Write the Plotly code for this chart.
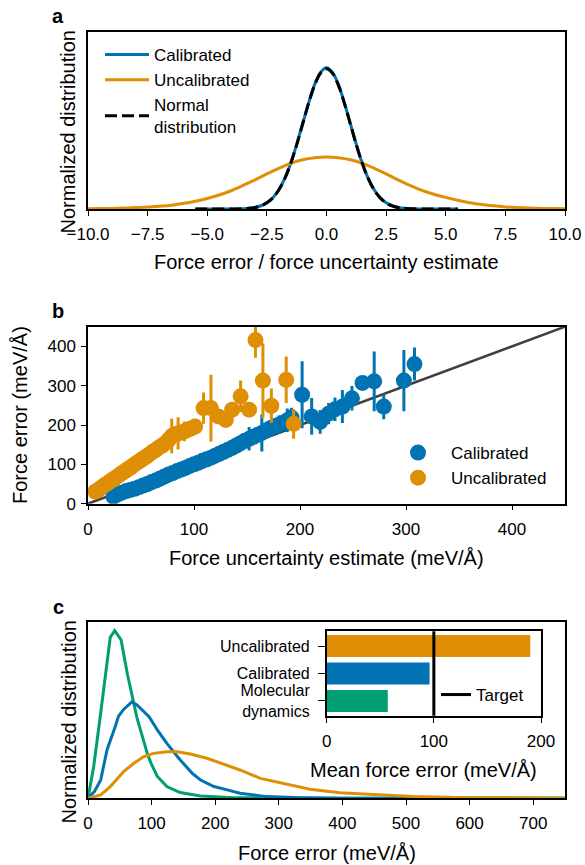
import plotly.graph_objects as go

# ---------------- Panel a data ----------------
a_x_unc = [-10, -9.5, -9, -8.5, -8, -7.5, -7, -6.5, -6, -5.5, -5, -4.5, -4, -3.5, -3, -2.5, -2, -1.5, -1, -0.5,
           0, 0.5, 1, 1.5, 2, 2.5, 3, 3.5, 4, 4.5, 5, 5.5, 6, 6.5, 7, 7.5, 8, 8.5, 9, 9.5, 10]
a_y_unc = [0.0007, 0.0011, 0.0017, 0.0025, 0.004, 0.0055, 0.008, 0.011, 0.016, 0.022, 0.030, 0.040, 0.052, 0.067,
           0.083, 0.100, 0.116, 0.130, 0.140, 0.146, 0.148, 0.146, 0.140, 0.130, 0.116, 0.100, 0.083, 0.067, 0.053,
           0.042, 0.033, 0.025, 0.018, 0.013, 0.009, 0.006, 0.004, 0.0025, 0.0017, 0.0011, 0.0007]
a_x_cal = [-5.5, -5, -4.5, -4, -3.5, -3.25, -3, -2.75, -2.5, -2.25, -2, -1.75, -1.5, -1.25, -1, -0.75, -0.5, -0.25,
           0, 0.25, 0.5, 0.75, 1, 1.25, 1.5, 1.75, 2, 2.25, 2.5, 2.75, 3, 3.25, 3.5, 4, 4.5, 5, 5.5]
a_y_cal = [0.0, 0.0, 0.0001, 0.0003, 0.001, 0.002, 0.0045, 0.0092, 0.018, 0.032, 0.055, 0.087, 0.130, 0.184, 0.243,
           0.302, 0.354, 0.389, 0.402, 0.389, 0.354, 0.302, 0.243, 0.184, 0.130, 0.087, 0.055, 0.032, 0.018, 0.0092,
           0.0045, 0.002, 0.001, 0.0003, 0.0001, 0.0, 0.0]
a_y_norm = [0.0, 0.0, 0.0, 0.0001, 0.0009, 0.002, 0.0044, 0.0091, 0.0175, 0.0317, 0.054, 0.0863, 0.130, 0.1826, 0.242,
            0.3011, 0.352, 0.3867, 0.399, 0.3867, 0.352, 0.3011, 0.242, 0.1826, 0.130, 0.0863, 0.054, 0.0317, 0.0175,
            0.0091, 0.0044, 0.002, 0.0009, 0.0001, 0.0, 0.0, 0.0]
a_ticks = [-10, -7.5, -5, -2.5, 0, 2.5, 5, 7.5, 10]

# ---------------- Panel b data ----------------
b_cal_x = [24, 28, 32, 36, 40, 44, 48, 52, 56, 60, 64, 68, 72, 76, 80, 84, 88, 92, 96, 100, 104, 108, 112, 116,
           120, 124, 128, 132, 136, 140, 144, 148, 152, 156, 160, 164, 168, 172, 176, 180, 184, 188, 192,
           202, 211, 219, 227, 233, 240, 249, 259, 270, 279, 298, 308]
b_cal_y = [18, 24, 28, 32, 35, 38, 42, 46, 50, 55, 59, 64, 69, 74, 78, 83, 87, 91, 96, 100, 104, 109, 113, 117,
           122, 127, 132, 137, 142, 148, 154, 160, 165, 170, 175, 180, 186, 192, 197, 201, 206, 212, 219,
           277, 222, 208, 229, 240, 247, 268, 307, 311, 247, 313, 355]
b_cal_err = [1, 1, 1, 1, 1, 1, 1, 1, 2, 2, 2, 2, 2, 3, 3, 3, 3, 4, 4, 4, 5, 5, 6, 6,
             7, 8, 10, 13, 9, 10, 12, 14, 30, 16, 20, 47, 18, 21, 15, 23, 20, 30, 25,
             85, 47, 30, 27, 30, 42, 31, 13, 76, 32, 78, 42]
b_unc_x = [7, 10, 13, 16, 19, 22, 25, 28, 31, 34, 37, 40, 43, 46, 49, 52, 55, 58, 61, 64, 67, 70, 73, 76, 79, 82,
           85, 88, 91, 94, 97, 101, 109, 116, 123, 130, 136, 144, 152, 158, 165, 173, 187, 194]
b_unc_y = [31, 36, 42, 48, 53, 59, 64, 70, 76, 81, 87, 92, 98, 104, 109, 115, 120, 126, 132, 137, 143, 148, 154,
           162, 172, 176, 179, 181, 184, 188, 191, 196, 243, 243, 222, 213, 239, 273, 239, 416, 313, 249, 315, 203]
b_unc_err = [1, 1, 1, 1, 1, 1, 2, 2, 2, 2, 2, 2, 3, 3, 3, 3, 3, 4, 4, 4, 5, 5, 6, 20, 44, 10, 41, 15, 25, 12, 15,
             20, 40, 85, 10, 10, 12, 40, 15, 45, 95, 44, 59, 38]
b_ident = [0, 450]
b_ticks = [0, 100, 200, 300, 400]

# ---------------- Panel c data ----------------
c_md_x = [0, 9, 20, 30, 35, 42, 48, 52, 62, 72, 77, 93, 99, 109, 124, 145, 177, 229, 300, 400, 500, 750]
c_md_y = [0, 0.19, 0.51, 0.83, 0.96, 1.0, 0.965, 0.945, 0.74, 0.57, 0.48, 0.27, 0.21, 0.13, 0.07, 0.034, 0.014,
          0.004, 0.001, 0, 0, 0]
c_cal_x = [0, 10, 20, 30, 43, 48, 56, 69, 77, 88, 96, 109, 124, 145, 164, 177, 198, 219, 239, 281, 334, 400, 500, 750]
c_cal_y = [0, 0.04, 0.11, 0.29, 0.43, 0.49, 0.53, 0.575, 0.557, 0.517, 0.487, 0.408, 0.328, 0.229, 0.149, 0.109,
           0.070, 0.050, 0.030, 0.010, 0.004, 0.001, 0, 0]
c_unc_x = [0, 20, 35, 56, 72, 88, 103, 124, 140, 161, 187, 218, 239, 271, 302, 320, 349, 396, 459, 511, 596, 750]
c_unc_y = [0, 0.02, 0.07, 0.159, 0.209, 0.249, 0.268, 0.278, 0.278, 0.264, 0.239, 0.199, 0.169, 0.119, 0.093, 0.08,
           0.054, 0.033, 0.02, 0.01, 0.004, 0.001]
c_ticks = [0, 100, 200, 300, 400, 500, 600, 700]

# inset
inset_cats = ["Uncalibrated", "Calibrated", "Molecular dynamics"]
inset_labels = ["Uncalibrated", "Calibrated", "Molecular<br>dynamics"]
inset_vals = [190, 96, 57]
target = 100

BLUE = "#0173b2"
ORANGE = "#de8f05"
GREEN = "#029e73"
FONT = "Liberation Sans, Arial, sans-serif"
TICK = 17
TITLE = 20

W, H = 585, 865
def px(x):
    return x / W
def py(y):
    return 1 - y / H

fig = go.Figure()

# panel a
fig.add_trace(go.Scatter(x=a_x_cal, y=a_y_cal, mode="lines", name="Calibrated", line=dict(color=BLUE, width=3, shape="spline"),
                         xaxis="x", yaxis="y", legend="legend"))
fig.add_trace(go.Scatter(x=a_x_unc, y=a_y_unc, mode="lines", name="Uncalibrated", line=dict(color=ORANGE, width=3, shape="spline"),
                         xaxis="x", yaxis="y", legend="legend"))
fig.add_trace(go.Scatter(x=a_x_cal, y=a_y_norm, mode="lines", name="Normal<br>distribution",
                         line=dict(color="black", width=3, dash="12px,5px", shape="spline"),
                         xaxis="x", yaxis="y", legend="legend"))

# panel b
fig.add_trace(go.Scatter(x=b_ident, y=b_ident, mode="lines", line=dict(color="#404040", width=2.5),
                         showlegend=False, xaxis="x2", yaxis="y2"))
fig.add_trace(go.Scatter(x=b_cal_x, y=b_cal_y, mode="markers", name="Calibrated",
                         marker=dict(color=BLUE, size=16),
                         error_y=dict(type="data", array=b_cal_err, color=BLUE, thickness=3, width=0),
                         xaxis="x2", yaxis="y2", legend="legend2"))
fig.add_trace(go.Scatter(x=b_unc_x, y=b_unc_y, mode="markers", name="Uncalibrated",
                         marker=dict(color=ORANGE, size=16),
                         error_y=dict(type="data", array=b_unc_err, color=ORANGE, thickness=3, width=0),
                         xaxis="x2", yaxis="y2", legend="legend2"))

# panel c
fig.add_trace(go.Scatter(x=c_md_x, y=c_md_y, mode="lines", line=dict(color=GREEN, width=3), showlegend=False,
                         xaxis="x3", yaxis="y3"))
fig.add_trace(go.Scatter(x=c_cal_x, y=c_cal_y, mode="lines", line=dict(color=BLUE, width=3), showlegend=False,
                         xaxis="x3", yaxis="y3"))
fig.add_trace(go.Scatter(x=c_unc_x, y=c_unc_y, mode="lines", line=dict(color=ORANGE, width=3), showlegend=False,
                         xaxis="x3", yaxis="y3"))

# inset
fig.add_trace(go.Bar(x=inset_vals, y=inset_cats, orientation="h", marker=dict(color=[ORANGE, BLUE, GREEN], line=dict(width=0)),
                     width=0.8, showlegend=False, xaxis="x4", yaxis="y4"))

fig.add_shape(type="line", xref="x4", yref="y4 domain", x0=target, x1=target, y0=0, y1=1,
              line=dict(color="black", width=3), showlegend=True, name="Target", legend="legend3")

axis_common = dict(showline=True, linecolor="black", linewidth=1.5, mirror=True,
                   tickwidth=1.3, tickcolor="black", showgrid=False, zeroline=False, automargin=False)
tf = dict(family=FONT, size=TICK, color="black")

fig.update_layout(
    template="none",
    width=W, height=H, autosize=False, margin=dict(l=0, r=0, t=0, b=0, pad=0),
    paper_bgcolor="white", plot_bgcolor="white",
    font=dict(family=FONT, size=TICK, color="black"),
    xaxis=dict(domain=[px(88), px(565)], range=[-10, 10], tickvals=a_ticks, tickformat=".1f", anchor="y",
               ticks="outside", ticklen=5, ticklabelstandoff=4, tickfont=tf, **axis_common),
    yaxis=dict(domain=[py(209), py(32)], range=[0, 0.504], anchor="x", showticklabels=False, ticks="", **axis_common),
    xaxis2=dict(domain=[px(88), px(565)], range=[0, 450], tickvals=b_ticks, anchor="y2", ticks="outside",
                ticklen=5, ticklabelstandoff=4, tickfont=tf, **axis_common),
    yaxis2=dict(domain=[py(503.7), py(326.7)], range=[0, 450], tickvals=b_ticks, anchor="x2", ticks="outside",
                ticklen=5, ticklabelstandoff=2, tickfont=tf, **axis_common),
    xaxis3=dict(domain=[px(88), px(565)], range=[0, 750], tickvals=c_ticks, anchor="y3", ticks="outside",
                ticklen=5, ticklabelstandoff=4, tickfont=tf, **axis_common),
    yaxis3=dict(domain=[py(798.3), py(622.3)], range=[0, 1.05], anchor="x3", showticklabels=False, ticks="", **axis_common),
    xaxis4=dict(domain=[px(326.7), px(541)], range=[0, 200], tickvals=[0, 100, 200], anchor="y4", ticks="outside",
                ticklen=6, ticklabelstandoff=3, tickfont=tf, **axis_common),
    yaxis4=dict(domain=[py(715.7), py(631.3)], type="category", categoryorder="array", categoryarray=inset_cats,
                range=[2.535, -0.535], tickvals=inset_cats, ticktext=inset_labels, anchor="x4", ticks="outside",
                ticklen=7, ticklabelstandoff=5, tickfont=dict(family=FONT, size=16, color="black"), **axis_common),
    legend=dict(x=px(100), y=py(37), xanchor="left", yanchor="top", bgcolor="rgba(0,0,0,0)", borderwidth=0,
                font=dict(family=FONT, size=TICK), itemwidth=44),
    legend2=dict(x=px(385), y=py(435), xanchor="left", yanchor="top", bgcolor="rgba(0,0,0,0)", borderwidth=0,
                 font=dict(family=FONT, size=TICK), itemwidth=56),
    legend3=dict(x=px(436), y=py(677), xanchor="left", yanchor="top", bgcolor="rgba(0,0,0,0)", borderwidth=0,
                 font=dict(family=FONT, size=TICK), itemwidth=30),
    showlegend=True,
)

def ann(text, x, y, size=TITLE, angle=0, bold=False):
    fig.add_annotation(text=f"<b>{text}</b>" if bold else text, x=px(x), y=py(y), xref="paper", yref="paper",
                       showarrow=False, textangle=angle, xanchor="center", yanchor="middle",
                       font=dict(family=FONT, size=size, color="black"))

ann("a", 58, 16, size=20, bold=True)
ann("b", 58, 311, size=20, bold=True)
ann("c", 58, 607, size=20, bold=True)
ann("Force error / force uncertainty estimate", 326.5, 262)
ann("Normalized distribution", 68, 132.5, angle=-90)
ann("Force uncertainty estimate (meV/Å)", 326.5, 558)
ann("Force error (meV/Å)", 20, 415, angle=-90)
ann("Force error (meV/Å)", 326.5, 853)
ann("Normalized distribution", 68, 722.5, angle=-90)
ann("Mean force error (meV/Å)", 423, 770)

fig.write_html("out.html")
